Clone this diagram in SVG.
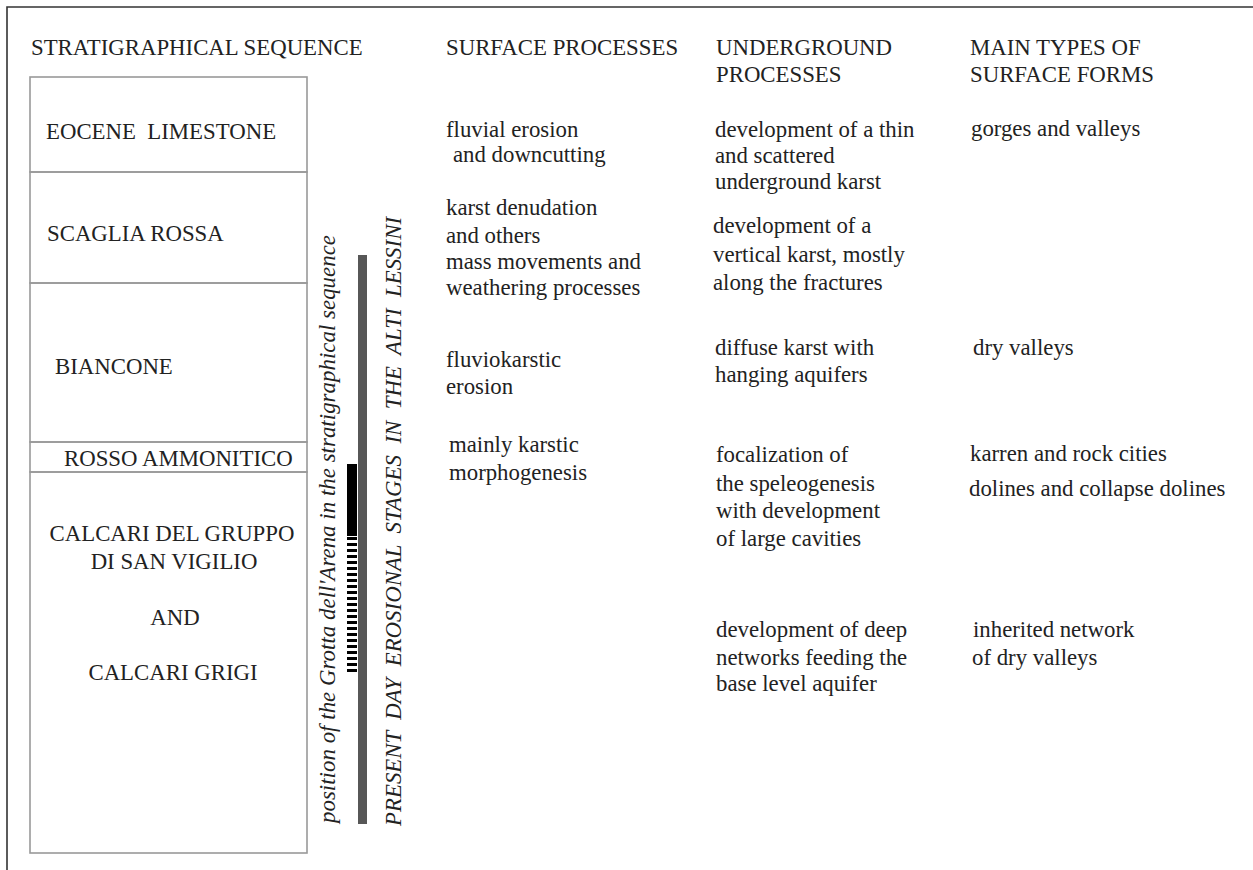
<svg xmlns="http://www.w3.org/2000/svg" width="1253" height="870" viewBox="0 0 1253 870">
<style>
text{font-family:"Liberation Serif","Times New Roman",serif;font-size:22.8px;fill:#222}
.strat{fill:none;stroke:#999;stroke-width:1.6}
.frame{stroke:#333;stroke-width:1.6;fill:none}
.mid{text-anchor:middle}
.it{font-style:italic}
</style>
<rect width="1253" height="870" fill="#fff"/>
<g id="frame">
<path class="frame" d="M7 870V7H1253"/>
</g>
<g id="headers">
<text x="31" y="55">STRATIGRAPHICAL SEQUENCE</text>
<text x="446" y="55">SURFACE PROCESSES</text>
<text x="716" y="55">UNDERGROUND</text>
<text x="716" y="82">PROCESSES</text>
<text x="970" y="55">MAIN TYPES OF</text>
<text x="970" y="82">SURFACE FORMS</text>
</g>
<g id="eocene">
<rect class="strat" x="30" y="77" width="277" height="95"/>
<text x="46" y="139">EOCENE&#160; LIMESTONE</text>
</g>
<g id="scaglia">
<rect class="strat" x="30" y="172" width="277" height="111"/>
<text x="47" y="241">SCAGLIA ROSSA</text>
</g>
<g id="biancone">
<rect class="strat" x="30" y="283" width="277" height="159"/>
<text x="55" y="374">BIANCONE</text>
</g>
<g id="rosso">
<rect class="strat" x="30" y="442" width="277" height="30"/>
<text x="64" y="466">ROSSO AMMONITICO</text>
</g>
<g id="calcari">
<rect class="strat" x="30" y="472" width="277" height="381"/>
<text class="mid" x="172" y="541">CALCARI DEL GRUPPO</text>
<text class="mid" x="174" y="569">DI SAN VIGILIO</text>
<text class="mid" x="175" y="625">AND</text>
<text class="mid" x="173" y="680">CALCARI GRIGI</text>
</g>
<g id="bars">
<rect x="358" y="255" width="9" height="569" fill="#575757"/>
<rect x="347" y="464" width="10" height="72" fill="#000"/>
<line x1="352" y1="537" x2="352" y2="673" stroke="#000" stroke-width="10" stroke-dasharray="3 3"/>
</g>
<g id="vertical-labels">
<text class="it" transform="translate(335,823) rotate(-90)" textLength="588" lengthAdjust="spacing">position of the Grotta dell'Arena in the stratigraphical sequence</text>
<text class="it" transform="translate(401,826) rotate(-90)" textLength="609" lengthAdjust="spacing" xml:space="preserve">PRESENT  DAY  EROSIONAL  STAGES  IN  THE  ALTI  LESSINI</text>
</g>
<g id="surface-processes">
<text x="446" y="137">fluvial erosion</text>
<text x="453" y="162">and downcutting</text>
<text x="446" y="215">karst denudation</text>
<text x="446" y="243">and others</text>
<text x="446" y="269">mass movements and</text>
<text x="446" y="295">weathering processes</text>
<text x="446" y="367">fluviokarstic</text>
<text x="446" y="394">erosion</text>
<text x="449" y="452">mainly karstic</text>
<text x="449" y="480">morphogenesis</text>
</g>
<g id="underground-processes">
<text x="715" y="137">development of a thin</text>
<text x="715" y="163">and scattered</text>
<text x="715" y="189">underground karst</text>
<text x="713" y="233">development of a</text>
<text x="713" y="262">vertical karst, mostly</text>
<text x="713" y="290">along the fractures</text>
<text x="715" y="355">diffuse karst with</text>
<text x="715" y="382">hanging aquifers</text>
<text x="716" y="462">focalization of</text>
<text x="716" y="491">the speleogenesis</text>
<text x="716" y="518">with development</text>
<text x="716" y="546">of large cavities</text>
<text x="716" y="637">development of deep</text>
<text x="716" y="665">networks feeding the</text>
<text x="716" y="691">base level aquifer</text>
</g>
<g id="surface-forms">
<text x="971" y="136">gorges and valleys</text>
<text x="973" y="355">dry valleys</text>
<text x="970" y="461">karren and rock cities</text>
<text x="969" y="496">dolines and collapse dolines</text>
<text x="973" y="637">inherited network</text>
<text x="972" y="665">of dry valleys</text>
</g>
</svg>
